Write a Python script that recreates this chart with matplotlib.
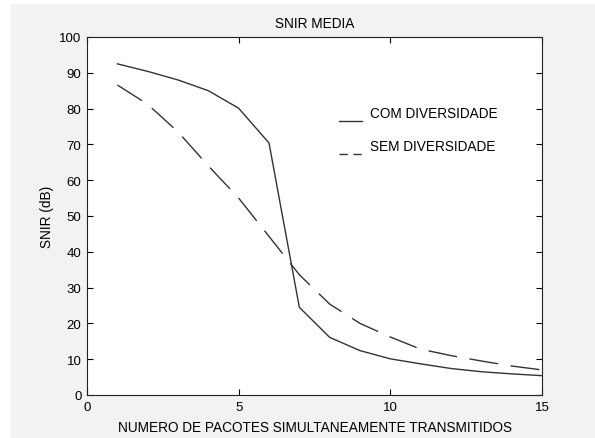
import matplotlib
matplotlib.use("Agg")
import matplotlib.pyplot as plt
from matplotlib.patches import Rectangle

x = [1, 2, 3, 4, 5, 6, 7, 8, 9, 10, 11, 12, 13, 14, 15]
com_div = [92.5, 90.4, 88.0, 85.0, 80.1, 70.4, 24.5, 16.1, 12.4, 10.1, 8.7, 7.4, 6.5, 5.9, 5.4]
sem_div = [86.6, 81.2, 73.5, 64.0, 55.0, 44.3, 33.6, 25.4, 20.0, 16.2, 12.8, 11.0, 9.5, 8.1, 7.0]
xticks = [0, 5, 10, 15]
yticks = [0, 10, 20, 30, 40, 50, 60, 70, 80, 90, 100]

plt.rcParams['font.family'] = ['Liberation Sans', 'DejaVu Sans']

fig = plt.figure(figsize=(5.95, 4.39), dpi=100, facecolor='#f2f2f2')
# white margins of the scanned image (left and top)
fig.patches.append(Rectangle((0, 0), 11/595, 1, transform=fig.transFigure,
                             facecolor='white', edgecolor='none', zorder=-1))
fig.patches.append(Rectangle((0, 1 - 5/439), 1, 5/439, transform=fig.transFigure,
                             facecolor='white', edgecolor='none', zorder=-1))

ax = fig.add_axes([87/595, 43/439, 455/595, 358/439])
ax.set_facecolor('white')

col = '#333333'
ax.plot(x, com_div, color=col, lw=1.0, solid_joinstyle='miter')
ax.plot(x, sem_div, color=col, lw=1.0, linestyle=(0, (21, 9)))

ax.set_xlim(0, 15)
ax.set_ylim(0, 100)
ax.set_xticks(xticks)
ax.set_yticks(yticks)
ax.tick_params(direction='in', top=True, right=True, length=4, width=0.8,
               labelsize=9.5, colors='black', pad=4)
for s in ax.spines.values():
    s.set_linewidth(0.8)
    s.set_color('#222222')

ax.set_title('SNIR MEDIA', fontsize=9.8, pad=7)
ax.set_xlabel('NUMERO DE PACOTES SIMULTANEAMENTE TRANSMITIDOS', fontsize=9.8, labelpad=5.5)
ax.set_ylabel('SNIR (dB)', fontsize=9.8, labelpad=3.5)

# legend (manual, frameless)
ax.plot([0.554, 0.604], [0.765, 0.765], transform=ax.transAxes, color=col, lw=1.0)
ax.plot([0.554, 0.604], [0.673, 0.673], transform=ax.transAxes, color=col, lw=1.0,
        linestyle=(0, (6, 4)))
ax.text(0.622, 0.788, 'COM DIVERSIDADE', transform=ax.transAxes, fontsize=9.8, va='center')
ax.text(0.622, 0.696, 'SEM DIVERSIDADE', transform=ax.transAxes, fontsize=9.8, va='center')

fig.savefig('out.png', dpi=100, facecolor=fig.get_facecolor())
